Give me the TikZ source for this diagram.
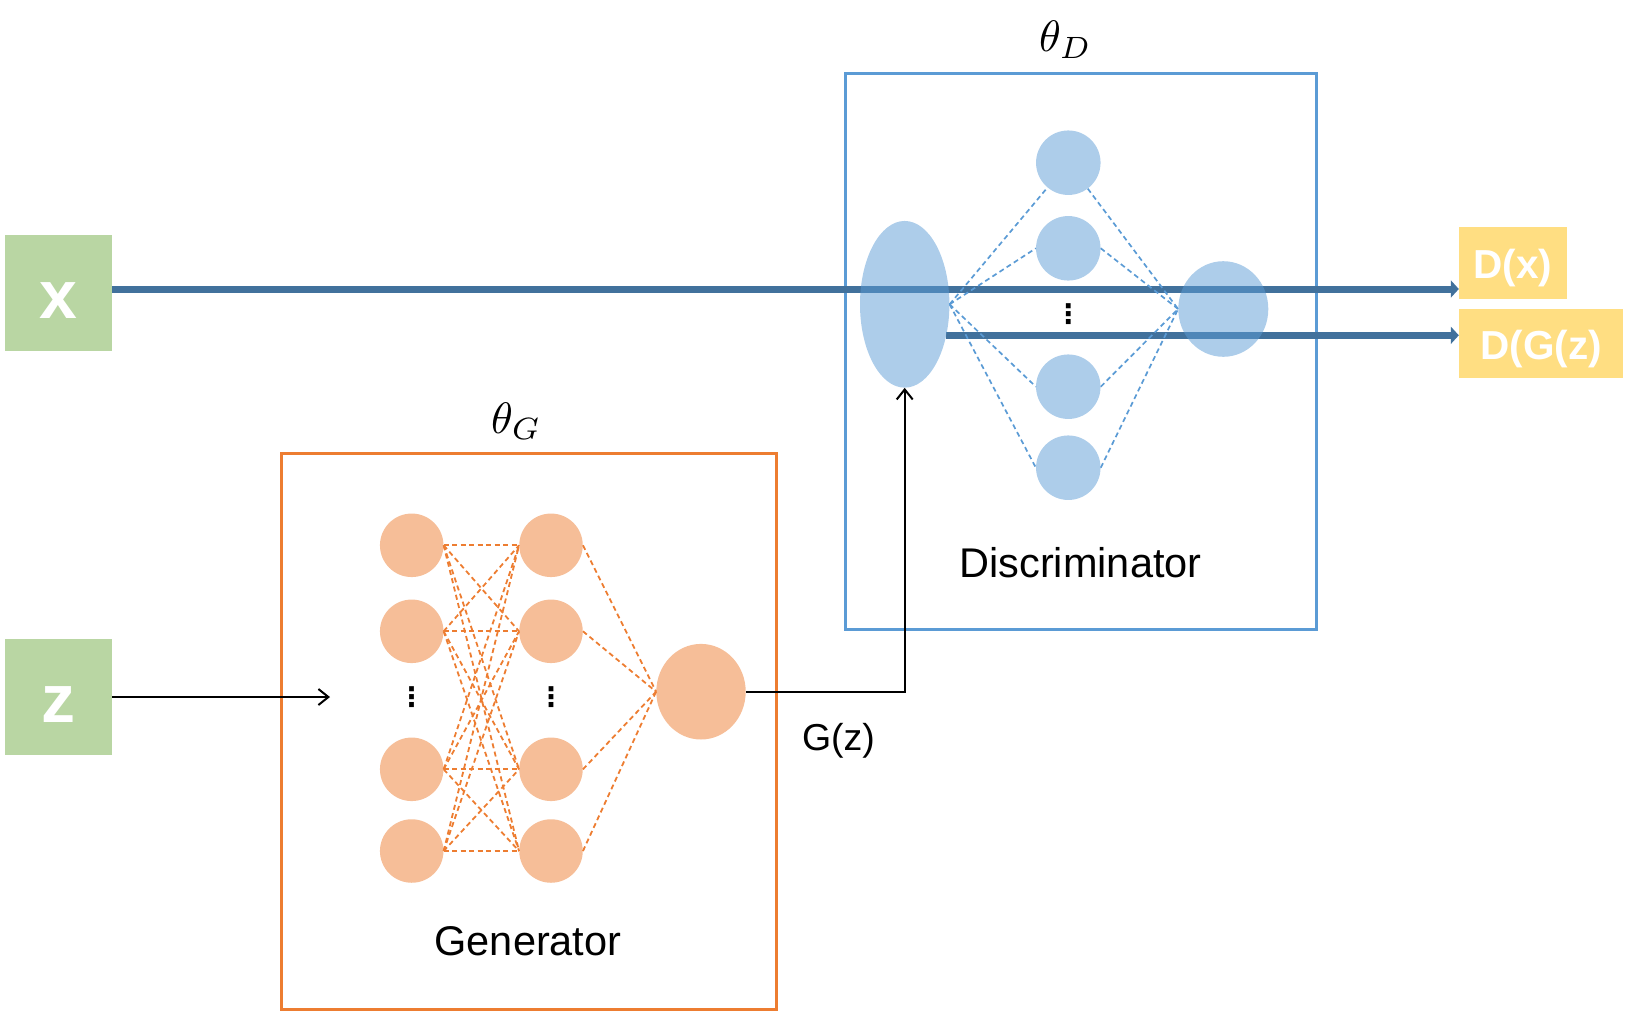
\documentclass[tikz,border=0pt]{standalone}
\usepackage{graphicx}
\usepackage{fontspec}
\setmainfont{Liberation Sans}
\newfontfamily\dejavu{DejaVu Sans}
\usetikzlibrary{shapes.geometric,arrows.meta}
\definecolor{boxgreen}{HTML}{B9D6A3}
\definecolor{outyellow}{HTML}{FFDE82}
\definecolor{accblue}{HTML}{5B9BD5}
\definecolor{accorange}{HTML}{ED7D31}
\definecolor{darkline}{HTML}{41719C}
\begin{document}
\begin{tikzpicture}[x=1pt,y=-1pt,
  inbox/.style={rectangle,fill=boxgreen,inner sep=0pt,minimum width=107pt,minimum height=116pt},
  outbox/.style={rectangle,fill=outyellow,inner sep=0pt},
  boldlab/.style={text=white,font=\bfseries\fontsize{68}{72}\selectfont,inner sep=0pt,anchor=base},
  outlab/.style={text=white,font=\bfseries\fontsize{40.5}{46}\selectfont,inner sep=0pt,anchor=base},
  genframe/.style={rectangle,draw=accorange,line width=3pt,inner sep=0pt,minimum width=495pt,minimum height=556pt},
  disframe/.style={rectangle,draw=accblue,line width=3pt,inner sep=0pt,minimum width=471pt,minimum height=556pt},
  gneuron/.style={circle,fill=accorange,fill opacity=0.5,inner sep=0pt,minimum size=63.5pt},
  dneuron/.style={circle,fill=accblue,fill opacity=0.5,inner sep=0pt,minimum size=64.5pt},
  gdash/.style={draw=accorange,line width=1.8pt,dash pattern=on 5pt off 3.5pt},
  ddash/.style={draw=accblue,line width=1.7pt,dash pattern=on 5pt off 3.5pt},
  thick arrow/.style={draw=darkline,line width=7pt,-{Triangle[length=8pt,width=17pt]}},
  thin arrow/.style={draw=black,line width=2pt,-{Straight Barb[length=10pt,width=16pt]}},
  vdotsnode/.style={font=\dejavu\bfseries\fontsize{27}{30}\selectfont,inner sep=0pt},
  caption/.style={font=\fontsize{41.5}{48}\selectfont,inner sep=0pt,anchor=base},
  thetalab/.style={inner sep=0pt,anchor=base west}
]
\useasboundingbox (0,0) rectangle (1629,1012);

% frames
\node[genframe] (gbox) at (528.5,731) {};
\node[disframe] (dbox) at (1080.5,351.7) {};

% inputs / outputs
\node[inbox] (xbox) at (58.5,293) {};
\node[boldlab] (xlab) at (58.5,318) {x};
\node[inbox] (zbox) at (58.5,697) {};
\node[boldlab] (zlab) at (58.5,722.3) {z};
\node[outbox,minimum width=108pt,minimum height=72pt] (dx) at (1513,263) {};
\node[outlab] (dxlab) at (1513,278.3) {D(x)};
\node[outbox,minimum width=164pt,minimum height=69pt] (dgz) at (1541,343.5) {};
\node[outlab] (dgzlab) at (1541,359) {D(G(z)};

% discriminator geometry (for line ends)
\coordinate (ellc) at (904.7,304.3);

% thick lines
\draw[thick arrow] (xbox.east |- 0,289) -- (dx.west |- 0,289);
\draw[thick arrow] (946,335.3) coordinate (lowstart) -- (dgz.west |- lowstart);

% discriminator neurons
\node[ellipse,fill=accblue,fill opacity=0.5,inner sep=0pt,minimum width=89.4pt,minimum height=166.7pt] (dell) at (ellc) {};
\node[dneuron] (d1) at (1068.3,162.7) {};
\node[dneuron] (d2) at (1068.3,248.3) {};
\node[dneuron] (d3) at (1068.3,386.7) {};
\node[dneuron] (d4) at (1068.3,467.7) {};
\node[ellipse,fill=accblue,fill opacity=0.5,inner sep=0pt,minimum width=90pt,minimum height=95.6pt] (dout) at (1223.3,309) {};
\node[vdotsnode] (ddots) at (1068.3,314) {⋮};

\draw[ddash] (dell.east) -- (d1);
\draw[ddash] (dell.east) -- (d2.west);
\draw[ddash] (dell.east) -- (d3.west);
\draw[ddash] (dell.east) -- (d4.west);
\draw[ddash] (d1) -- (dout.west);
\draw[ddash] (d2.east) -- (dout.west);
\draw[ddash] (d3.east) -- (dout.west);
\draw[ddash] (d4.east) -- (dout.west);

% generator neurons
\foreach \i/\y in {1/545.3,2/631.3,3/769.3,4/851} {
  \node[gneuron] (gi\i) at (411.7,\y) {};
  \node[gneuron] (gh\i) at (551,\y) {};
}
\node[ellipse,fill=accorange,fill opacity=0.5,inner sep=0pt,minimum width=89.4pt,minimum height=95.6pt] (gout) at (701,691.7) {};
\node[vdotsnode] (gdots1) at (411.7,697) {⋮};
\node[vdotsnode] (gdots2) at (551,697) {⋮};

\foreach \i in {1,...,4} {
  \foreach \j in {1,...,4} {
    \draw[gdash] (gi\i.east) -- (gh\j.west);
  }
  \draw[gdash] (gh\i.east) -- (gout.west);
}

% thin arrows
\coordinate (zend) at (330,697);
\draw[thin arrow] (zbox.east) -- (zend);
\draw[thin arrow] (gout.east) -| (dell.south);

% labels
\node[caption] (genlab) at (528,955.5) {Generator};
\node[caption] (dislab) at (1080.5,577) {Discriminator};
\node[caption,font=\fontsize{37.5}{44}\selectfont] (gzlab) at (838.5,750) {G(z)};
\node[thetalab] (thg) at (491,433) {\scalebox{4.4}{$\theta_G$}};
\node[thetalab] (thd) at (1039,51.5) {\scalebox{4.4}{$\theta_D$}};
\end{tikzpicture}
\end{document}
